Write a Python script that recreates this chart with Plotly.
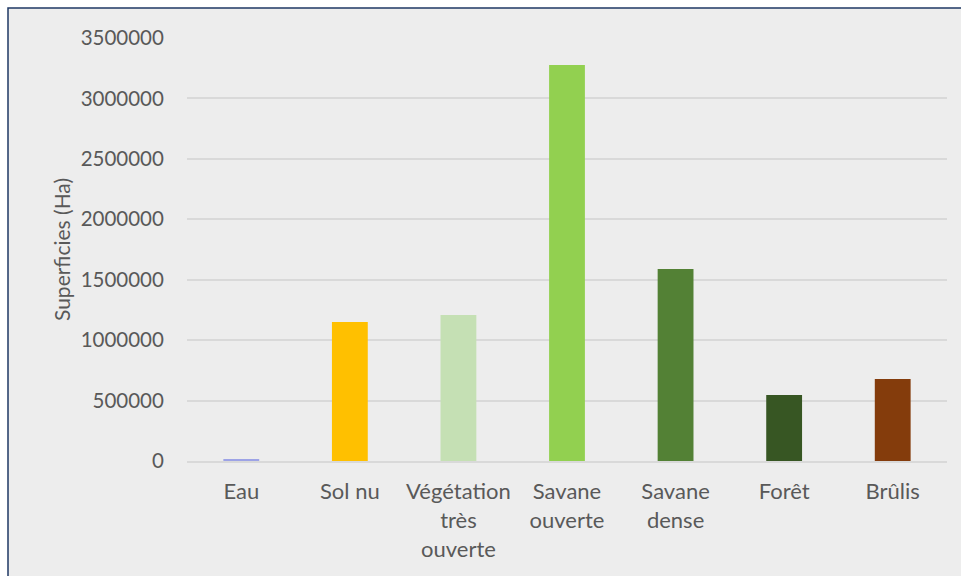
import plotly.graph_objects as go

# Land-cover classes and their areas (hectares)
categories = ["Eau", "Sol nu", "Végétation<br>très<br>ouverte", "Savane<br>ouverte",
              "Savane<br>dense", "Forêt", "Brûlis"]
superficies = [15000, 1150000, 1208000, 3276000, 1589000, 546000, 678000]
bar_colors = ["#9DA3E6", "#FFC000", "#C5E0B4", "#92D050", "#538135", "#375623", "#843C0C"]
y_ticks = [0, 500000, 1000000, 1500000, 2000000, 2500000, 3000000, 3500000]

W, H = 961, 576
L, R, T, B = 187, 14, 38, 115
pw, ph = W - L - R, H - T - B

def px_x(p):
    return (p - L) / pw

def px_y(p):
    return (H - B - p) / ph

text_color = "#595959"
font_family = "Lato, 'Open Sans', sans-serif"

fig = go.Figure(go.Bar(
    x=categories,
    y=superficies,
    marker=dict(color=bar_colors, line=dict(width=0)),
    width=0.33,
))

# Chart frame: grey fill with a thin navy border
fig.add_shape(type="rect", xref="paper", yref="paper",
              x0=px_x(8), x1=px_x(968), y0=px_y(584), y1=px_y(8),
              fillcolor="#EDEDED", line=dict(color="#1F3864", width=1.5),
              layer="below")

fig.update_layout(
    width=W, height=H,
    margin=dict(l=L, r=R, t=T, b=B, pad=0),
    paper_bgcolor="white",
    plot_bgcolor="rgba(0,0,0,0)",
    font=dict(family=font_family, size=21, color=text_color),
    showlegend=False,
)

fig.update_xaxes(
    showgrid=False, zeroline=False,
    showline=True, linecolor="#D9D9D9", linewidth=2,
    ticks="outside", ticklen=10, tickcolor="rgba(0,0,0,0)",
    tickfont=dict(size=22, color=text_color, family=font_family),
    tickangle=0,
)

fig.update_yaxes(
    range=[0, 3500000],
    tickvals=y_ticks,
    ticktext=[str(v) for v in y_ticks],
    showgrid=True, gridcolor="#D9D9D9", gridwidth=1.5,
    zeroline=False, showline=False,
    ticks="outside", ticklen=18, tickcolor="rgba(0,0,0,0)",
    tickfont=dict(size=20.5, color=text_color, family=font_family),
    title=dict(text="Superficies (Ha)", standoff=4,
               font=dict(size=21, color=text_color, family=font_family)),
)

fig.write_html("out.html")
